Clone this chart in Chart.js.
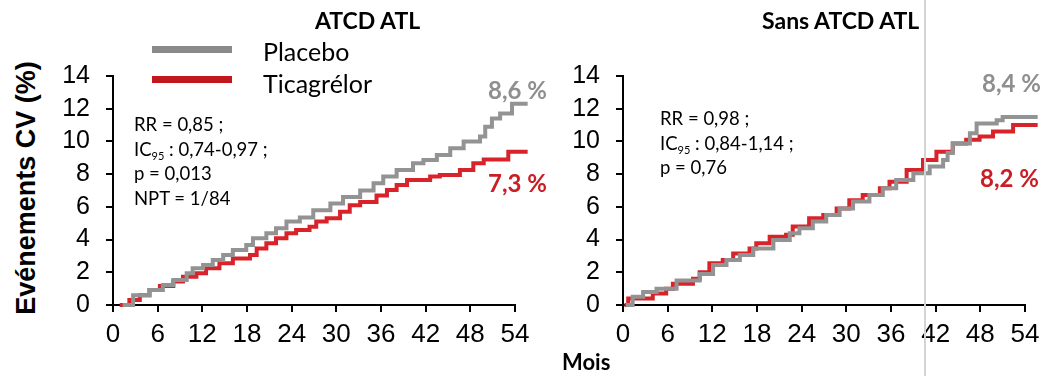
<!DOCTYPE html>
<html><head><meta charset="utf-8">
<script src="https://cdn.jsdelivr.net/npm/chart.js@4/dist/chart.umd.min.js"></script>
<style>
body{margin:0;background:#fff;width:1044px;height:376px;overflow:hidden;position:relative;font-family:"Liberation Sans",Arial,sans-serif}
canvas{position:absolute;top:0}
.t{position:absolute;white-space:nowrap;color:#000}
.ann{font-family:Lato,"Open Sans",sans-serif;font-size:18.5px;line-height:24.6px}
.ttl{font-family:Lato,"Open Sans",sans-serif;font-weight:bold;font-size:23px}
.end{font-family:Lato,"Open Sans",sans-serif;font-weight:bold;font-size:24px}
.leg{font-family:Lato,"Open Sans",sans-serif;font-size:25px}
sub{font-size:11px;vertical-align:-4px;line-height:0}
</style></head><body>
<canvas id="c1" width="490" height="376" style="left:60px"></canvas>
<canvas id="c2" width="490" height="376" style="left:570px"></canvas>
<div style="position:absolute;left:924px;top:0;width:2px;height:376px;background:#d4d4d4"></div>
<div class="t ttl" style="left:315px;top:6px">ATCD ATL</div>
<div class="t ttl" style="left:762px;top:6px">Sans ATCD ATL</div>
<div style="position:absolute;left:152px;top:46px;width:80px;height:7px;background:#8a8a8a"></div>
<div style="position:absolute;left:152px;top:76px;width:80px;height:7px;background:#c1171d"></div>
<div class="t leg" style="left:263px;top:36px">Placebo</div>
<div class="t leg" style="left:263px;top:68px">Ticagrélor</div>
<div class="t ann" style="left:134px;top:112px">RR = 0,85 ;<br>IC<sub>95</sub> : 0,74-0,97 ;<br>p = 0,013<br>NPT = 1/84</div>
<div class="t ann" style="left:660px;top:106px">RR = 0,98 ;<br>IC<sub>95</sub> : 0,84-1,14 ;<br>p = 0,76</div>
<div class="t end" style="left:488px;top:75px;color:#8f8f8f">8,6 %</div>
<div class="t end" style="left:488px;top:168px;color:#c81e24">7,3 %</div>
<div class="t end" style="left:982px;top:68px;color:#8f8f8f">8,4 %</div>
<div class="t end" style="left:980px;top:163px;color:#c81e24">8,2 %</div>
<div class="t" style="left:26px;top:188px;transform:translate(-50%,-50%) rotate(-90deg);font-weight:bold;font-size:27px">Evénements CV (%)</div>
<div class="t ttl" style="left:562px;top:348px;font-size:22px">Mois</div>
<script>
// Months and cumulative event rates (%)
const xTicks = [0, 6, 12, 18, 24, 30, 36, 42, 48, 54];
const yTicks = [0, 2, 4, 6, 8, 10, 12, 14];

// Panel 1: ATCD ATL
const p1PlaceboMonths = [1.3, 2.7, 4.9, 6.7, 8.1, 9.9, 10.7, 12.1, 13.4, 14.8, 16.1, 17.9, 18.8, 20.6, 21.9, 23.3, 25.1, 26.9, 29.2, 30.9, 33.2, 35, 36.3, 38.1, 40.3, 41.7, 43.5, 45.3, 47.1, 49.3, 50, 50.9, 52, 53.6, 55.7];
const p1PlaceboValues = [0, 0.6, 0.92, 1.22, 1.53, 1.94, 2.24, 2.45, 2.75, 3.06, 3.36, 3.67, 4.08, 4.38, 4.69, 5.1, 5.35, 5.8, 6.2, 6.6, 7.0, 7.44, 7.85, 8.25, 8.66, 8.86, 9.17, 9.58, 10.0, 10.3, 10.9, 11.4, 11.7, 12.3, 12.3];
const p1TicaMonths = [0.9, 2.2, 3.6, 4.9, 6.3, 8.1, 9.4, 11.2, 12.5, 14.3, 16.1, 18.4, 19.3, 20.6, 21.9, 23.3, 24.6, 26.4, 27.3, 28.7, 30.5, 31.8, 33.2, 35.4, 36.8, 38.1, 39.5, 42.6, 43.9, 46.6, 48.4, 49.8, 53.1, 55.7];
const p1TicaValues = [0, 0.3, 0.6, 0.92, 1.16, 1.43, 1.73, 1.94, 2.24, 2.55, 2.85, 3.06, 3.46, 3.77, 4.08, 4.38, 4.59, 4.79, 5.1, 5.3, 5.7, 6.1, 6.3, 6.7, 7.03, 7.34, 7.64, 7.85, 7.95, 8.25, 8.66, 8.9, 9.37, 9.37];

// Panel 2: Sans ATCD ATL
const p2PlaceboMonths = [0.4, 1.3, 2.7, 4.5, 7.2, 10.3, 12.1, 13.9, 15.7, 17.5, 20.2, 22.4, 23.7, 25.5, 27.3, 29.1, 30.9, 33.1, 34.9, 36.7, 39, 41.2, 43, 43.6, 44.3, 46.6, 47.5, 50.2, 51, 55.7];
const p2PlaceboValues = [0, 0.5, 0.8, 1.0, 1.5, 1.9, 2.45, 2.75, 3.06, 3.46, 3.97, 4.38, 4.69, 5.1, 5.5, 5.9, 6.32, 6.72, 7.13, 7.64, 8.05, 8.46, 8.86, 9.3, 9.88, 10.5, 11.1, 11.3, 11.5, 11.5];
const p2TicaMonths = [0.2, 0.7, 4, 5.8, 6.7, 9.4, 10.3, 11.6, 13.4, 14.8, 17, 17.9, 19.7, 21.9, 22.8, 25, 26.9, 28.7, 30.4, 32.2, 34.5, 35.8, 38.1, 40.3, 42.1, 44.3, 46.1, 47.9, 49.7, 52.4, 55.7];
const p2TicaValues = [0, 0.4, 0.71, 1.0, 1.3, 1.6, 2.0, 2.55, 2.75, 3.15, 3.46, 3.77, 4.18, 4.3, 4.8, 5.3, 5.5, 5.9, 6.4, 6.72, 7.13, 7.54, 8.25, 8.86, 9.37, 9.88, 10.1, 10.3, 10.6, 11.0, 11.0];

const GRAY = '#939393', RED = '#d9232b';
function pts(xs, ys){ return xs.map((x,i)=>({x, y: ys[i]})); }
function ds(xs, ys, color){
  return {data: pts(xs, ys), borderColor: color, borderWidth: 4, pointRadius: 0, stepped: 'before', clip: false, fill: false};
}
function make(id, datasets){
  const axisCommon = {
    grid: {display: true, drawOnChartArea: false, drawTicks: true, tickLength: 7, color: '#000', lineWidth: 2},
    border: {display: true, color: '#000', width: 2},
  };
  new Chart(document.getElementById(id), {
    type: 'line',
    data: {datasets},
    options: {
      responsive: false, animation: false,
      layout: {padding: {left: 0, right: 35, top: 76, bottom: 31}},
      plugins: {legend: {display: false}, tooltip: {enabled: false}},
      scales: {
        x: Object.assign({}, axisCommon, {
          type: 'linear', min: 0, max: 54,
          afterBuildTicks: s => { s.ticks = xTicks.map(v => ({value: v})); },
          afterFit: s => { s.height = 40; },
          ticks: {color: '#000', padding: 7, font: {family: 'Liberation Sans, Arial', size: 26}, maxRotation: 0, autoSkip: false}
        }),
        y: Object.assign({}, axisCommon, {
          min: 0, max: 14,
          afterBuildTicks: s => { s.ticks = yTicks.map(v => ({value: v})); },
          afterFit: s => { s.width = 53; },
          ticks: {color: '#000', padding: 16, autoSkip: false, font: {family: 'Liberation Sans, Arial', size: 25}}
        })
      }
    }
  });
}
make('c1', [ds(p1PlaceboMonths, p1PlaceboValues, GRAY), ds(p1TicaMonths, p1TicaValues, RED)]);
make('c2', [ds(p2PlaceboMonths, p2PlaceboValues, GRAY), ds(p2TicaMonths, p2TicaValues, RED)]);
</script>
</body></html>
